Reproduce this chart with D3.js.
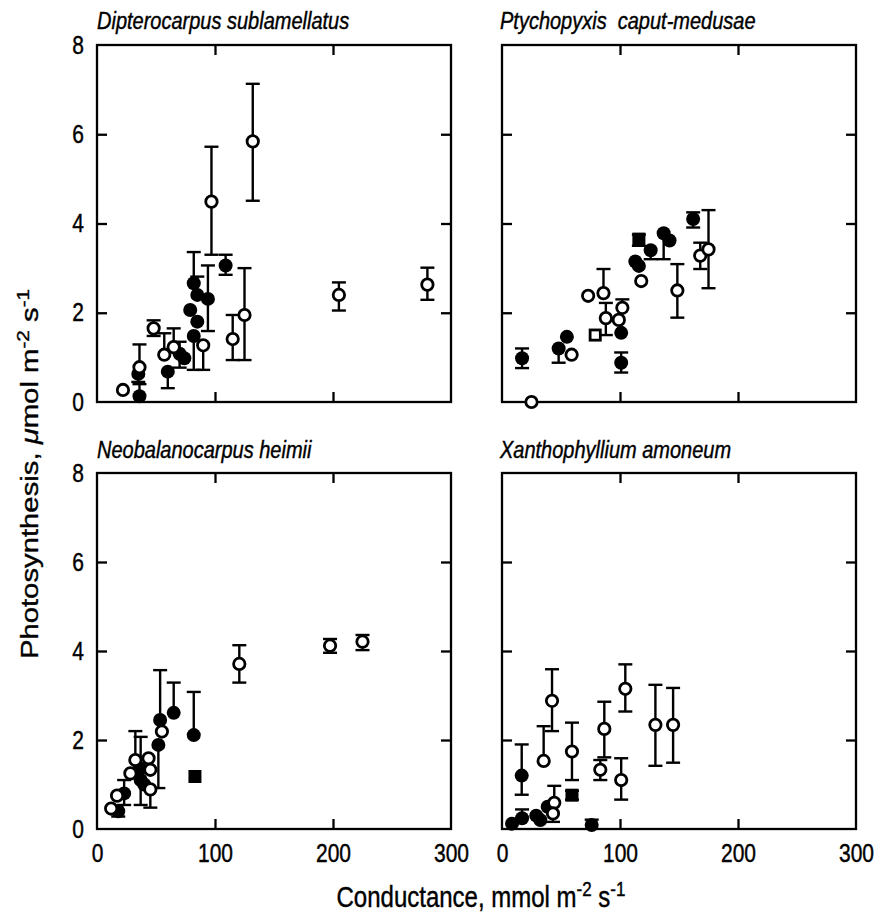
<!DOCTYPE html>
<html><head><meta charset="utf-8">
<script src="https://cdn.jsdelivr.net/npm/d3@7/dist/d3.min.js"></script>
<style>
body{margin:0;background:#fff}
text{font-family:"Liberation Sans",Arial,Helvetica,sans-serif;fill:#000;stroke:#000;stroke-width:0.35px}
</style>
</head><body>
<svg id="chart" width="878" height="918"></svg>
<script>
// ---------- DATA ----------
const xTickValues = [0, 100, 200, 300];
const yTickValues = [0, 2, 4, 6, 8];
const speciesNames = ["Dipterocarpus sublamellatus", "Ptychopyxis  caput-medusae", "Neobalanocarpus heimii", "Xanthophyllium amoneum"];
const xTitle = "Conductance, mmol m";
const yTitle = "Photosynthesis, ";

// each point: [conductance, photosynthesis, upper error, lower error]
const dipteroFilled = [[36,0.13,0.27,0],[35,0.63,0,0.18],[60,0.68,0,0.37],[70,1.08,0.27,0.31],[74,0.98,0,0],
  [82,2.66,0.70,0],[85,2.40,0.41,0],[94,2.31,0.75,0.72],[79,2.06,0,0],[85,1.80,0,0],[82,1.48,0,0.76],[109,3.06,0.24,0.21]];
const dipteroOpen = [[22,0.27,0,0],[36,0.78,0.51,0],[48,1.65,0.18,0.17],[57,1.06,0.48,0],[65,1.23,0.42,0],[90,1.27,0,0.55],
  [97,4.49,1.23,1.19],[115,1.41,0.54,0.47],[125,1.95,1.05,1.01],[132,5.84,1.29,1.33],[205,2.40,0.28,0.35],[280,2.63,0.38,0.34]];
const dipteroFilledSq = [];
const dipteroOpenSq = [];

const ptychoFilled = [[17,0.98,0.22,0.22],[48,1.20,0,0.32],[55,1.46,0,0],[101,1.55,0,0],[101,0.88,0.23,0.22],[113,3.15,0,0],
  [116,3.05,0,0],[126,3.40,0,0.20],[137,3.78,0,0.58],[142,3.62,0,0],[162,4.10,0.15,0.19]];
const ptychoOpen = [[25,0.0,0,0],[59,1.06,0,0],[73,2.38,0,0],[86,2.44,0.54,0],[88,1.88,0.34,0.38],[99,1.84,0,0],
  [102,2.11,0.19,0],[118,2.71,0,0],[148.6,2.50,0.59,0.61],[168,3.28,0.29,0.30],[175,3.42,0.88,0.87]];
const ptychoFilledSq = [[116,3.65,0.10,0.15]];
const ptychoOpenSq = [[79,1.50,0,0]];

const neoFilled = [[18,0.40,0,0.12],[23,0.80,0.30,0.26],[36.5,1.36,0,0],[37,1.10,0.97,0.56],[40,1.0,0,0],
  [52,1.89,0,0.97],[53.5,2.45,1.12,0],[65,2.61,0.68,0],[82,2.11,0.97,0]];
const neoOpen = [[12,0.46,0,0],[17,0.75,0,0],[28.3,1.25,0,0],[32.5,1.55,0.65,0],[43.7,1.59,0,0],[45.2,1.33,0,0],
  [45.2,0.89,0,0.41],[55,2.19,0,0],[120.6,3.71,0.42,0.42],[197.5,4.12,0.15,0.16],[225,4.21,0.15,0.19]];
const neoFilledSq = [[83,1.18,0,0]];
const neoOpenSq = [];

const xanthoFilled = [[8.5,0.12,0,0],[16.7,1.20,0.70,0.43],[17,0.24,0.20,0],[29,0.30,0,0],[32.5,0.20,0,0],
  [38.7,0.50,0,0],[76,0.09,0.12,0]];
const xanthoOpen = [[35.3,1.53,0.78,0],[42.4,2.88,0.71,0.68],[44.3,0.59,0.38,0],[43.2,0.35,0,0.19],[59.3,1.74,0.65,0.64],
  [83.3,1.33,0.22,0.23],[86.7,2.25,0.61,0.64],[101,1.10,0.49,0.44],[104.5,3.15,0.55,0.51],[130,2.34,0.90,0.92],[145,2.34,0.83,0.85]];
const xanthoFilledSq = [[59.3,0.76,0.10,0.10]];
const xanthoOpenSq = [];

// ---------- LAYOUT ----------
const panels = [
  {name: speciesNames[0], x0:97,  x1:451, y0:45,  y1:402, filled:dipteroFilled, open:dipteroOpen, fsq:dipteroFilledSq, osq:dipteroOpenSq, left:true,  bottom:false},
  {name: speciesNames[1], x0:502, x1:856, y0:45,  y1:402, filled:ptychoFilled,  open:ptychoOpen,  fsq:ptychoFilledSq,  osq:ptychoOpenSq,  left:false, bottom:false},
  {name: speciesNames[2], x0:97,  x1:451, y0:473, y1:829, filled:neoFilled,     open:neoOpen,     fsq:neoFilledSq,     osq:neoOpenSq,     left:true,  bottom:true},
  {name: speciesNames[3], x0:502, x1:856, y0:473, y1:829, filled:xanthoFilled,  open:xanthoOpen,  fsq:xanthoFilledSq,  osq:xanthoOpenSq,  left:false, bottom:true}
];

const svg = d3.select("#chart");
const RF = 7, RO = 6, SQ = 6.5, CAP = 7, SY = 1.22;
const tickFont = 21;

function stretch(sel) {
  sel.each(function () {
    const t = d3.select(this);
    const xv = +t.attr("x") || 0, yv = +t.attr("y") || 0;
    t.attr("x", 0).attr("y", 0).attr("transform", `translate(${xv},${yv}) scale(1,${SY})`);
  });
}

panels.forEach(p => {
  const x = d3.scaleLinear().domain([0,300]).range([p.x0, p.x1]);
  const y = d3.scaleLinear().domain([0,8]).range([p.y1, p.y0]);
  const g = svg.append("g");

  const inner = xTickValues.filter(v => v > 0 && v < 300);
  const innerY = yTickValues.filter(v => v > 0 && v < 8);
  const axB = g.append("g").attr("transform", `translate(0,${p.y1})`)
    .call(d3.axisBottom(x).tickValues(p.bottom ? xTickValues : inner).tickSize(-10).tickPadding(15)
      .tickFormat(p.bottom ? d3.format("d") : () => ""));
  axB.selectAll("line").filter(d => d === 0 || d === 300).remove();
  const axT = g.append("g").attr("transform", `translate(0,${p.y0})`)
    .call(d3.axisTop(x).tickValues(inner).tickSize(-10).tickFormat(() => ""));
  const axL = g.append("g").attr("transform", `translate(${p.x0},0)`)
    .call(d3.axisLeft(y).tickValues(p.left ? yTickValues : innerY).tickSize(-10).tickPadding(13)
      .tickFormat(p.left ? d3.format("d") : () => ""));
  axL.selectAll("line").filter(d => d === 0 || d === 8).remove();
  const axR = g.append("g").attr("transform", `translate(${p.x1},0)`)
    .call(d3.axisRight(y).tickValues(innerY).tickSize(-10).tickFormat(() => ""));
  [axB, axT, axL, axR].forEach(a => {
    a.select(".domain").remove();
    a.selectAll("line").attr("stroke", "#000").attr("stroke-width", 2.3);
    a.selectAll("text").attr("font-size", tickFont).attr("font-family", '"Liberation Sans",Arial,sans-serif').attr("fill", "#000");
    stretch(a.selectAll("text"));
  });

  g.append("rect").attr("x", p.x0).attr("y", p.y0).attr("width", p.x1 - p.x0).attr("height", p.y1 - p.y0)
    .attr("fill", "none").attr("stroke", "#000").attr("stroke-width", 2.3);

  const tt = g.append("text").attr("x", p.x0 + (p.left ? 0 : -2)).attr("y", p.y0 - (p.bottom ? 15 : 16))
    .attr("font-size", 20).attr("font-style", "italic").style("white-space", "pre").text(p.name);
  stretch(tt);

  const all = [].concat(p.filled, p.open, p.fsq, p.osq);
  const eb = g.append("g").attr("stroke", "#000").attr("stroke-width", 2.4).attr("fill", "none");
  all.forEach(d => {
    const cx = x(d[0]);
    if (d[2] > 0) {
      eb.append("line").attr("x1", cx).attr("x2", cx).attr("y1", y(d[1])).attr("y2", y(d[1] + d[2]));
      eb.append("line").attr("x1", cx - CAP).attr("x2", cx + CAP).attr("y1", y(d[1] + d[2])).attr("y2", y(d[1] + d[2]));
    }
    if (d[3] > 0) {
      eb.append("line").attr("x1", cx).attr("x2", cx).attr("y1", y(d[1])).attr("y2", y(d[1] - d[3]));
      eb.append("line").attr("x1", cx - CAP).attr("x2", cx + CAP).attr("y1", y(d[1] - d[3])).attr("y2", y(d[1] - d[3]));
    }
  });

  g.append("g").selectAll("circle").data(p.filled).join("circle")
    .attr("cx", d => x(d[0])).attr("cy", d => y(d[1])).attr("r", RF).attr("fill", "#000");
  g.append("g").selectAll("rect").data(p.fsq).join("rect")
    .attr("x", d => x(d[0]) - SQ).attr("y", d => y(d[1]) - SQ).attr("width", 2 * SQ).attr("height", 2 * SQ)
    .attr("fill", "#000");
  g.append("g").selectAll("circle").data(p.open).join("circle")
    .attr("cx", d => x(d[0])).attr("cy", d => y(d[1])).attr("r", RO - 0.3)
    .attr("fill", "#fff").attr("stroke", "#000").attr("stroke-width", 2.8);
  g.append("g").selectAll("rect").data(p.osq).join("rect")
    .attr("x", d => x(d[0]) - SQ + 1.4).attr("y", d => y(d[1]) - SQ + 1.4).attr("width", 2 * SQ - 2.8).attr("height", 2 * SQ - 2.8)
    .attr("fill", "#fff").attr("stroke", "#000").attr("stroke-width", 2.8);
});

// axis titles
const xt = svg.append("text").attr("transform", `translate(481,907) scale(1,${SY})`).attr("text-anchor", "middle").attr("font-size", 24);
xt.append("tspan").text(xTitle);
xt.append("tspan").attr("dy", -9).attr("font-size", 17).text("-2");
xt.append("tspan").attr("dy", 9).text(" s");
xt.append("tspan").attr("dy", -9).attr("font-size", 17).text("-1");

const yt = svg.append("text").attr("transform", `translate(38,474) rotate(-90) scale(${SY},1)`).attr("text-anchor", "middle").attr("font-size", 24);
yt.append("tspan").text(yTitle);
yt.append("tspan").attr("font-style", "italic").text("\u03bc");
yt.append("tspan").text("mol m");
yt.append("tspan").attr("dy", -9).attr("font-size", 17).text("-2");
yt.append("tspan").attr("dy", 9).text(" s");
yt.append("tspan").attr("dy", -9).attr("font-size", 17).text("-1");
</script>
</body></html>
